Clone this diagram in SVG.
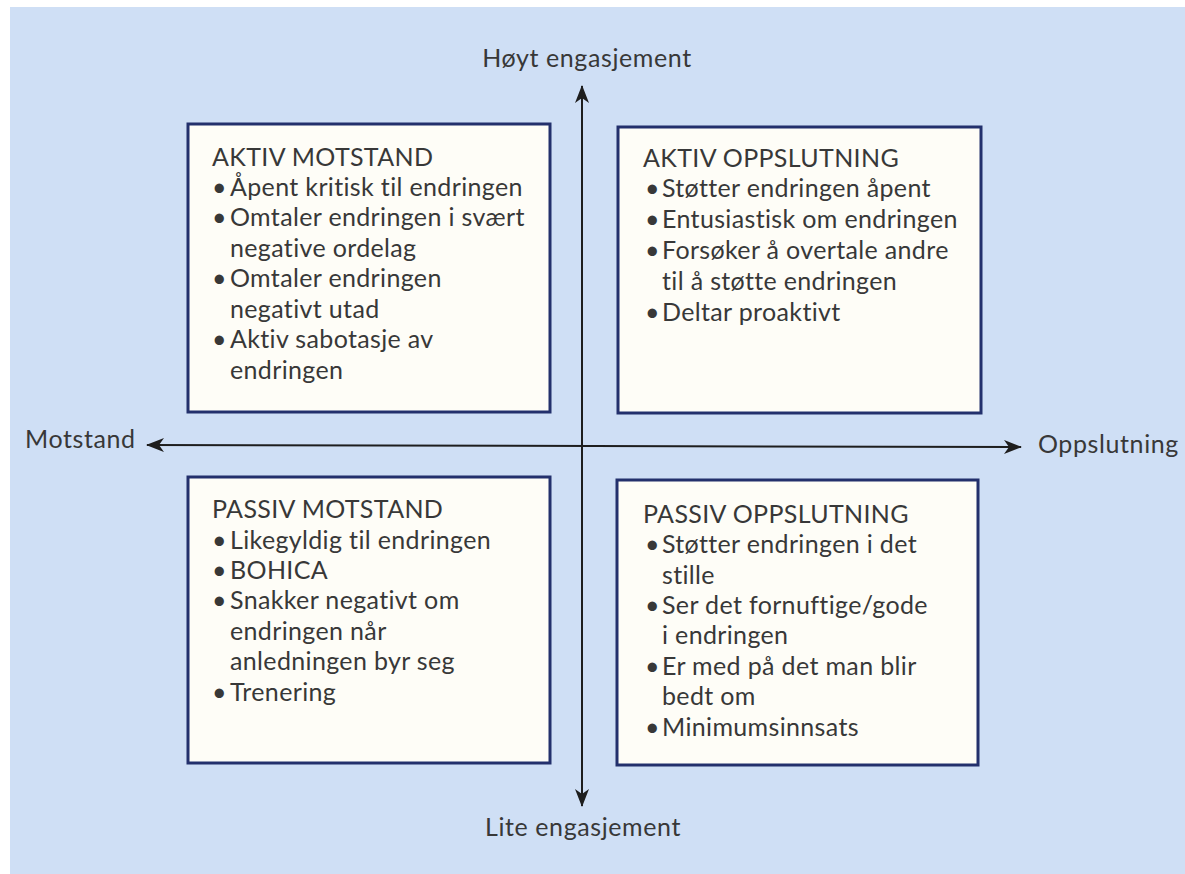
<svg xmlns="http://www.w3.org/2000/svg" width="1185" height="874" viewBox="0 0 1185 874">
<defs>
<style>
.bg{fill:#cfdff5}
.box{fill:#fefdf7;stroke:#23306c;stroke-width:3}
.t{font-family:Lato,"Open Sans","Liberation Sans",sans-serif;font-size:25px;letter-spacing:0.35px;fill:#383838}
.ax{font-family:Lato,"Open Sans","Liberation Sans",sans-serif;font-size:25px;letter-spacing:0.6px;fill:#383838}
.axis{stroke:#1e1e1e;stroke-width:2;fill:none}
</style>
<marker id="ah" viewBox="0 0 18 14" refX="17" refY="7" markerWidth="18" markerHeight="14" markerUnits="userSpaceOnUse" orient="auto-start-reverse">
<path d="M0,0 L18,7 L0,14 L5,7 Z" fill="#1e1e1e"/>
</marker>
</defs>
<rect x="0" y="0" width="1185" height="874" fill="#ffffff"/>
<rect class="bg" x="10" y="7" width="1175" height="867"/>
<g id="connectors">
<line class="axis" x1="582" y1="806" x2="582" y2="86" marker-end="url(#ah)" marker-start="url(#ah)"/>
<line class="axis" x1="147" y1="445" x2="1021" y2="447" marker-end="url(#ah)" marker-start="url(#ah)"/>
</g>
<g id="aktiv-motstand">
<rect class="box" x="188" y="124" width="362" height="288"/>
<text class="t" x="212" y="166">AKTIV MOTSTAND</text>
<text class="t" x="212" y="196">•</text><text class="t" x="230" y="196">Åpent kritisk til endringen</text>
<text class="t" x="212" y="226">•</text><text class="t" x="230" y="226">Omtaler endringen i svært</text>
<text class="t" x="230" y="257">negative ordelag</text>
<text class="t" x="212" y="287">•</text><text class="t" x="230" y="287">Omtaler endringen</text>
<text class="t" x="230" y="318">negativt utad</text>
<text class="t" x="212" y="348">•</text><text class="t" x="230" y="348">Aktiv sabotasje av</text>
<text class="t" x="230" y="379">endringen</text>
</g>
<g id="aktiv-oppslutning">
<rect class="box" x="618" y="127" width="363" height="286"/>
<text class="t" x="643" y="167">AKTIV OPPSLUTNING</text>
<text class="t" x="645" y="197">•</text><text class="t" x="662" y="197">Støtter endringen åpent</text>
<text class="t" x="645" y="228">•</text><text class="t" x="662" y="228">Entusiastisk om endringen</text>
<text class="t" x="645" y="259">•</text><text class="t" x="662" y="259">Forsøker å overtale andre</text>
<text class="t" x="662" y="290">til å støtte endringen</text>
<text class="t" x="645" y="321">•</text><text class="t" x="662" y="321">Deltar proaktivt</text>
</g>
<g id="passiv-motstand">
<rect class="box" x="188" y="477" width="362" height="286"/>
<text class="t" x="212" y="518">PASSIV MOTSTAND</text>
<text class="t" x="212" y="549">•</text><text class="t" x="230" y="549">Likegyldig til endringen</text>
<text class="t" x="212" y="579">•</text><text class="t" x="230" y="579">BOHICA</text>
<text class="t" x="212" y="609">•</text><text class="t" x="230" y="609">Snakker negativt om</text>
<text class="t" x="230" y="640">endringen når</text>
<text class="t" x="230" y="670">anledningen byr seg</text>
<text class="t" x="212" y="701">•</text><text class="t" x="230" y="701">Trenering</text>
</g>
<g id="passiv-oppslutning">
<rect class="box" x="617" y="480" width="361" height="285"/>
<text class="t" x="643" y="523">PASSIV OPPSLUTNING</text>
<text class="t" x="645" y="553">•</text><text class="t" x="662" y="553">Støtter endringen i det</text>
<text class="t" x="662" y="584">stille</text>
<text class="t" x="645" y="614">•</text><text class="t" x="662" y="614">Ser det fornuftige/gode</text>
<text class="t" x="662" y="644">i endringen</text>
<text class="t" x="645" y="675">•</text><text class="t" x="662" y="675">Er med på det man blir</text>
<text class="t" x="662" y="705">bedt om</text>
<text class="t" x="645" y="736">•</text><text class="t" x="662" y="736">Minimumsinnsats</text>
</g>
<g id="axis-labels">
<text class="ax" x="587" y="67" text-anchor="middle">Høyt engasjement</text>
<text class="ax" x="583" y="836" text-anchor="middle">Lite engasjement</text>
<text class="ax" x="25" y="448">Motstand</text>
<text class="ax" x="1038" y="453">Oppslutning</text>
</g>
</svg>
